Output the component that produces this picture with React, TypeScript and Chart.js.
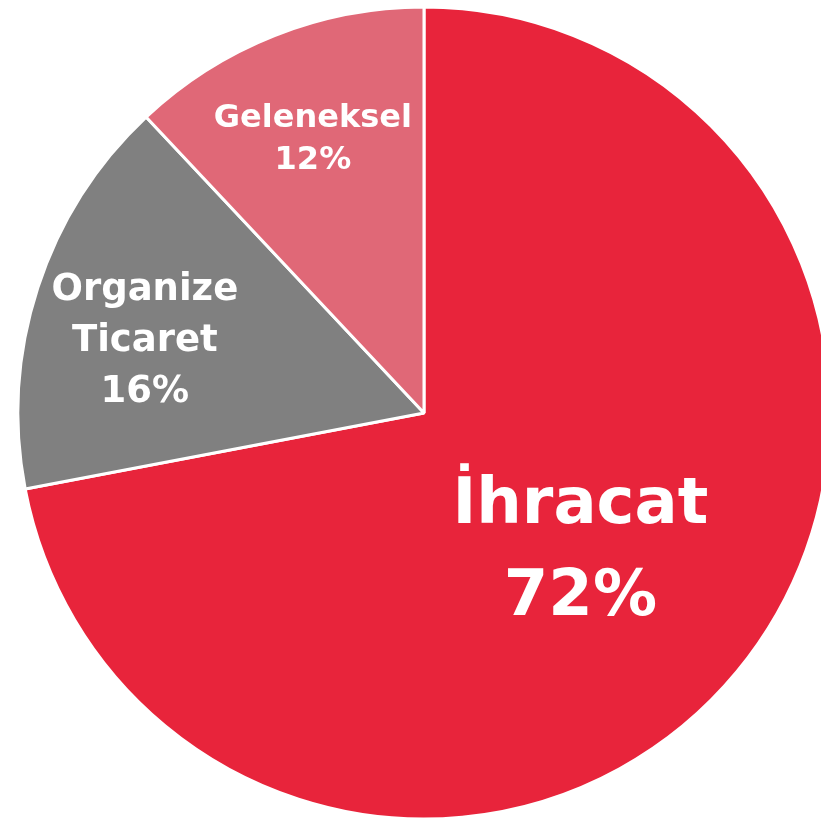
import React, { useEffect, useRef } from "react";
import { Chart, registerables } from "chart.js";

Chart.register(...registerables);

const categories = ["İhracat", "Organize\nTicaret", "Geleneksel"];
const shares = [72, 16, 12];
const sliceColors = ["#E8243B", "#808080", "#E06877"];

const labelPlugin = {
  id: "sliceLabels",
  afterDatasetsDraw(chart: any, _args: any, opts: any) {
    const ctx = chart.ctx;
    const meta = chart.getDatasetMeta(0);
    const data = chart.data.datasets[0].data;
    meta.data.forEach((arc: any, i: number) => {
      const p = arc.getProps(["x", "y", "startAngle", "endAngle", "outerRadius"], true);
      const mid = (p.startAngle + p.endAngle) / 2;
      const f = opts.radiusFrac[i];
      const cx = p.x + Math.cos(mid) * p.outerRadius * f + opts.dx[i];
      const cy = p.y + Math.sin(mid) * p.outerRadius * f + opts.dy[i];
      const lines = String(chart.data.labels[i]).split("\n").concat([data[i] + "%"]);
      const size = opts.fontSize[i];
      const lh = opts.lineHeight[i];
      ctx.save();
      ctx.fillStyle = "#FFFFFF";
      ctx.font = `bold ${size}px "DejaVu Sans", "Open Sans", sans-serif`;
      ctx.textAlign = "center";
      ctx.textBaseline = "middle";
      const startY = cy - ((lines.length - 1) * lh) / 2;
      lines.forEach((t: string, k: number) => ctx.fillText(t, cx, startY + k * lh));
      ctx.restore();
    });
  },
};

export default function App() {
  const ref = useRef<HTMLCanvasElement | null>(null);
  useEffect(() => {
    if (!ref.current) return;
    const chart = new Chart(ref.current, {
      type: "pie",
      data: {
        labels: categories,
        datasets: [
          {
            data: shares,
            backgroundColor: sliceColors,
            borderColor: "#FFFFFF",
            borderWidth: 3,
          },
        ],
      },
      options: {
        responsive: false,
        animation: false,
        radius: 406,
        layout: { padding: 0 },
        plugins: {
          legend: { display: false },
          tooltip: { enabled: false },
          sliceLabels: {
            radiusFrac: [0.5, 0.71, 0.73],
            dx: [0, -5, -2],
            dy: [10, 17, 2],
            fontSize: [64, 37, 32],
            lineHeight: [92, 51, 42],
          },
        } as any,
      },
      plugins: [labelPlugin],
    });
    return () => chart.destroy();
  }, []);
  return (
    <div style={{ position: "absolute", left: 0, top: 0, width: 821, height: 821, overflow: "hidden", background: "#fff" }}>
      <canvas ref={ref} width={848} height={826} style={{ display: "block" }} />
    </div>
  );
}
